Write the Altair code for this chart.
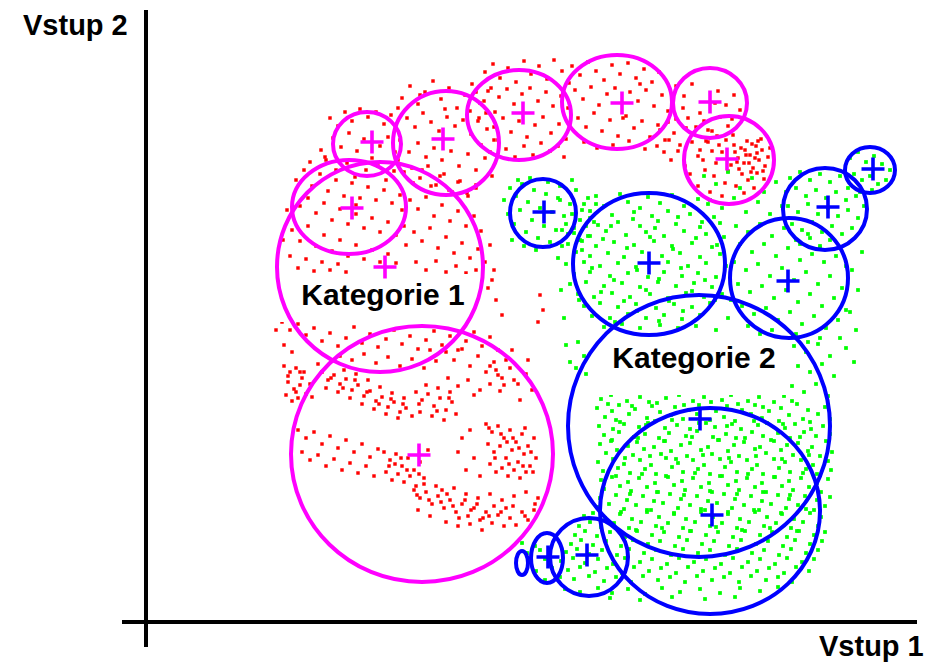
import altair as alt
import pandas as pd

# ---------------- text ----------------
axis_titles = ["Vstup 2", "Vstup 1"]
axis_title_x = [23, 819]
axis_title_y = [35, 656]

category_labels = ["Kategorie 1", "Kategorie 2"]
category_label_x = [383, 694]
category_label_y = [305, 368]
label_box_x1 = [280, 588]
label_box_x2 = [484, 790]
label_box_y1 = [274, 338]
label_box_y2 = [322, 395]

# ---------------- axes (pixel-like coordinate frame) ----------------
axis_x1 = [146, 122]
axis_x2 = [146, 917]
axis_y1 = [10, 622]
axis_y2 = [647, 622]

# ---------------- cluster outlines, category 1 (magenta) ----------------
cat1_cx = [367, 446, 519, 617, 710, 729, 349, 380, 422]
cat1_cy = [144, 143, 115, 102, 103, 160, 207, 267, 454]
cat1_rx = [34, 53, 52, 55, 37, 45, 57, 103, 131]
cat1_ry = [32, 52, 45, 47, 35, 44, 47, 105, 128]
cat1_cross_x = [372, 443, 523, 622, 710, 727, 352, 385, 419]
cat1_cross_y = [142, 139, 113, 103, 102, 159, 208, 267, 455]

# ---------------- cluster outlines, category 2 (blue) ----------------
cat2_cx = [543, 649, 789, 825, 870, 699, 710, 589, 547, 522]
cat2_cy = [213, 264, 278, 209, 170, 426, 511, 557, 558, 563]
cat2_rx = [33, 76, 59, 42, 25, 131, 110, 39, 16, 6]
cat2_ry = [34, 71, 60, 41, 23, 131, 103, 39, 25, 12]
cat2_cross_x = [544, 649, 788, 828, 873, 700, 712, 587, 548]
cat2_cross_y = [212, 263, 281, 207, 169, 419, 515, 555, 557]

# ---------------- training samples, category 1 (red) ----------------
red_left_top = [(330,118),(338,126),(345,112),(352,121),(360,109),(368,117),(376,112),(384,124),(391,115),(398,108),(333,138),(341,147),(349,133),(357,151),(364,139),(372,158),(380,146),(388,137),(395,152),(326,160),(336,170),(347,163),(355,177),(366,170),(378,166),(386,180),(394,171),(321,150)]
red_arc_a = [(402,98),(410,86),(418,104),(425,92),(433,81),(441,99),(449,88),(457,108),(465,95),(472,84),(480,103),(488,91),(495,112),(407,118),(415,127),(423,113),(431,122),(439,131),(447,117),(455,126),(463,120),(471,134),(479,118),(487,129),(494,140),(400,140),(409,152),(418,143),(426,157),(434,148),(442,160),(451,151),(459,166),(468,154),(476,170),(485,158),(492,176),(404,172),(413,183),(422,170),(431,186),(440,176),(449,190),(458,182),(467,193),(476,185),(398,160),(420,95),(445,109),(470,111)]
red_arc_b = [(485,72),(493,64),(500,78),(508,68),(516,82),(524,61),(531,74),(539,66),(547,79),(554,60),(562,71),(569,83),(476,92),(484,101),(491,88),(499,97),(507,89),(514,104),(522,94),(530,88),(538,101),(546,92),(553,106),(561,96),(568,108),(478,121),(486,113),(494,127),(503,118),(511,132),(519,121),(527,137),(535,125),(543,117),(551,133),(559,124),(566,139),(481,145),(490,152),(498,140),(506,149),(515,157),(524,146),(533,155),(541,143),(550,151),(558,146),(564,157)]
red_arc_c = [(572,66),(580,75),(588,62),(596,71),(604,80),(612,65),(620,74),(628,63),(636,78),(644,69),(652,82),(659,72),(575,90),(583,99),(591,87),(599,105),(607,94),(615,88),(630,92),(638,101),(646,90),(654,106),(662,95),(668,111),(578,118),(586,127),(594,113),(602,131),(610,120),(618,136),(626,116),(634,128),(642,121),(650,137),(658,125),(665,140),(584,142),(597,148),(613,145),(629,141),(645,149),(657,146),(640,84),(623,118)]
red_arc_d = [(676,86),(684,96),(692,84),(700,113),(718,91),(726,105),(734,95),(688,118),(696,127),(704,121),(712,131),(720,117),(728,126),(668,122),(674,133),(680,145),(686,128),(664,152),(671,160),(678,151),(685,166),(692,142),(698,156),(706,141),(740,110),(683,108),(715,103),(732,119),(669,140),(676,119),(660,130),(690,174)]
red_arc_e = [(700,150),(708,142),(716,163),(722,152),(728,171),(734,145),(738,158),(741,148),(744,163),(747,141),(750,155),(753,168),(756,146),(759,160),(762,150),(765,166),(768,157),(742,174),(748,180),(736,186),(725,183),(714,176),(705,170),(698,186),(710,192),(722,196),(731,165),(739,169),(746,155),(752,144),(757,173),(761,139),(733,135),(726,140),(717,136),(708,130),(770,148),(764,179),(754,188),(744,193),(703,160),(712,151),(719,145),(735,152),(749,163),(757,153)]
red_side = [(296,180),(304,170),(312,186),(320,174),(328,191),(336,180),(344,196),(352,183),(360,198),(368,187),(376,200),(384,190),(392,203),(400,195),(300,206),(308,198),(316,213),(324,203),(332,220),(340,209),(348,224),(356,214),(364,228),(372,218),(380,232),(388,222),(396,235),(404,226),(292,230),(300,241),(308,226),(316,246),(324,235),(332,251),(340,240),(348,256),(356,245),(364,259),(372,250),(380,262),(388,254),(396,263),(290,256),(298,268),(306,259),(314,271),(322,262),(330,270),(338,264),(346,272),(310,162),(325,157),(287,210),(283,240),(406,245),(402,210),(356,205)]
red_inner = [(412,168),(420,178),(428,166),(436,185),(444,174),(452,192),(460,181),(468,196),(476,188),(410,200),(418,209),(426,197),(434,216),(442,205),(450,221),(458,211),(466,226),(474,216),(481,231),(414,232),(422,241),(430,228),(438,248),(446,237),(454,253),(462,243),(470,258),(478,249),(485,262),(416,262),(426,270),(436,261),(446,272),(456,266),(466,273),(476,270),(490,245),(492,280)]
red_mid = [(282,322),(290,330),(298,324),(306,335),(314,328),(322,341),(330,333),(338,346),(346,338),(354,327),(362,343),(370,334),(378,347),(386,339),(394,330),(402,344),(410,336),(418,349),(426,340),(434,331),(442,345),(450,336),(458,350),(466,341),(474,332),(482,346),(490,337),(498,350),(284,345),(292,352),(496,300),(502,315),(488,288),(494,270),(276,330),(540,295),(543,310),(538,322)]
red_low_a = [(284,366),(290,372),(296,368),(302,378),(288,382),(294,389),(300,385),(306,394),(286,395),(292,401),(298,398),(310,384),(304,372),(312,397),(322,372),(328,380),(334,375),(340,384),(346,379),(352,390),(358,385),(364,396),(370,391),(376,401),(382,397),(388,407),(394,402),(400,412),(406,408),(412,416),(326,388),(338,392),(350,398),(362,404),(374,409),(386,414),(398,418),(344,370),(356,374),(368,380),(380,387),(392,393),(404,398),(318,364),(340,356),(352,360),(364,354),(376,363),(388,357),(400,366),(412,359),(424,368),(436,361),(430,350)]
red_low_b = [(446,352),(454,360),(462,349),(470,366),(478,356),(486,372),(494,362),(502,378),(510,368),(518,384),(526,374),(532,390),(448,378),(458,386),(468,380),(480,390),(490,384),(496,370),(500,391),(506,360),(514,380),(490,366),(498,375),(504,385),(474,395),(520,400),(528,360),(512,350),(416,392),(422,400),(428,394),(434,406),(440,398),(446,410),(452,402),(420,412),(432,416),(444,420),(456,414),(426,385),(438,388),(450,392)]
red_low_c = [(298,430),(306,438),(314,432),(322,444),(330,436),(338,448),(346,440),(354,452),(362,444),(370,457),(378,449),(302,452),(310,460),(318,455),(326,466),(334,459),(342,470),(350,463),(358,473),(366,466),(374,476),(384,452),(390,460),(396,454),(402,466),(408,458),(414,470),(420,462),(386,472),(392,480),(398,474),(404,482),(410,476),(416,486),(424,478),(428,450),(458,452),(466,470),(474,458),(480,476),(462,438),(470,430)]
red_low_d = [(486,424),(492,432),(498,426),(504,438),(510,430),(516,442),(522,434),(528,446),(534,438),(488,444),(494,452),(500,446),(506,458),(512,450),(518,462),(524,454),(530,466),(536,458),(490,464),(496,472),(502,468),(508,476),(514,470),(520,478),(526,472)]
red_bottom = [(414,490),(420,498),(426,492),(432,504),(438,496),(444,508),(450,500),(456,512),(462,504),(468,516),(474,508),(480,520),(486,512),(492,523),(498,515),(504,526),(510,518),(516,525),(522,512),(528,520),(534,510),(418,510),(430,516),(442,490),(454,488),(466,494),(478,498),(490,494),(502,500),(514,496),(526,492),(538,498),(446,522),(458,526),(470,524),(482,530),(494,506),(506,508),(424,484),(436,486)]
red_dense = [(489,428),(501,434),(513,438),(525,428),(531,452),(519,448),(507,442),(495,458),(509,464),(523,466),(533,472),(417,495),(429,500),(441,502),(453,506),(465,500),(477,504),(489,516),(501,512),(513,506),(525,516),(535,504),(447,494),(459,518),(471,510),(483,518),(745,150),(755,158),(763,171),(737,162),(751,172),(758,141),(331,378),(343,388),(355,380),(367,392),(379,404),(391,399),(403,404),(288,376),(296,392),(300,372),(419,404),(437,411),(449,398),(395,464),(407,470),(419,474),(389,466),(401,458)]

# ---------------- training samples, category 2 (green) ----------------
green_small = [(510,188),(516,196),(522,184),(528,202),(534,190),(540,208),(546,194),(552,212),(558,198),(564,216),(570,204),(576,190),(582,210),(588,198),(594,222),(508,214),(514,224),(520,210),(526,232),(532,220),(538,238),(544,226),(550,242),(556,230),(562,246),(568,234),(574,228),(580,240),(586,226),(512,240),(524,246),(536,250),(518,180),(530,178),(548,182),(560,186),(572,180),(590,236),(596,204),(504,200)]
green_upper = [(596,196),(620,194),(648,197),(672,195),(698,199),(584,204),(604,206),(628,202),(640,208),(660,203),(684,206),(708,204),(572,214),(590,211),(612,215),(634,212),(652,216),(668,211),(690,214),(714,217),(566,224),(580,220),(598,225),(618,222),(640,226),(658,221),(676,224),(700,227),(720,223),(574,233),(588,236),(606,231),(626,235),(646,232),(664,236),(684,231),(706,234),(724,237),(568,244),(582,241),(596,246),(614,242),(634,245),(654,241),(672,246),(692,243),(712,247),(576,252),(590,256),(608,253),(624,257),(642,252),(662,256),(680,253),(700,257),(720,254),(566,264),(584,262),(600,266),(618,263),(636,267),(668,262),(688,266),(706,263),(726,266),(574,274),(590,272),(610,276),(628,273),(648,277),(664,272),(682,276),(698,273),(716,277),(570,284),(586,282),(604,286),(622,283),(640,287),(658,282),(676,286),(694,283),(712,287),(578,294),(594,297),(612,293),(630,297),(650,294),(668,298),(686,293),(704,297),(722,294),(584,306),(600,303),(618,307),(636,304),(656,308),(674,304),(692,307),(710,303),(592,316),(610,318),(628,314),(646,318),(664,315),(682,319),(700,315),(604,327),(622,324),(640,328),(660,325),(678,328),(696,326),(560,200),(562,230),(558,258),(561,290),(564,318),(566,345),(570,362),(716,330),(728,318),(731,300)]
green_upper_dense = [(590,218),(611,226),(633,219),(655,228),(678,217),(702,222),(582,250),(603,239),(627,248),(650,237),(673,249),(696,238),(717,245),(592,268),(614,280),(637,270),(659,279),(681,268),(705,280),(579,300),(601,292),(624,301),(646,290),(669,301),(692,291),(715,300),(615,322),(637,311),(659,321),(683,311)]
green_right = [(850,158),(858,152),(866,162),(874,156),(882,164),(890,170),(854,174),(862,180),(870,176),(878,184),(886,180),(848,188),(860,192),(872,190),(790,178),(800,172),(810,180),(820,174),(830,182),(840,176),(786,192),(796,188),(806,196),(816,190),(826,198),(836,192),(846,200),(856,196),(864,206),(788,206),(798,212),(808,204),(818,214),(828,208),(838,216),(848,210),(858,218),(792,224),(802,230),(812,222),(822,232),(832,226),(842,234),(852,228),(800,244),(810,238),(820,246),(830,240),(840,248),(704,176),(716,184),(728,172),(740,188),(752,178),(764,192),(776,182),(710,200),(722,208),(734,198),(746,212),(758,202),(770,214),(782,206),(736,226),(748,232),(760,224),(772,236),(784,228),(796,240),(808,234),(820,248),(740,244),(752,252),(764,244),(776,256),(788,248),(800,260),(812,254),(824,262),(836,256),(846,266),(734,262),(746,270),(758,264),(770,276),(782,268),(794,280),(806,272),(818,284),(830,276),(842,288),(738,284),(750,292),(762,286),(774,298),(786,290),(798,302),(810,294),(822,306),(834,298),(846,310),(742,306),(754,314),(766,308),(778,320),(790,312),(802,324),(814,316),(826,328),(838,320),(748,326),(760,334),(772,330),(784,340),(796,334),(808,342),(820,338),(852,270),(858,290),(850,312),(856,330),(846,348),(854,362),(840,338),(862,252)]
green_side = [(794,346),(806,352),(818,344),(830,356),(798,366),(810,372),(822,364),(834,376),(792,386),(804,392),(816,384),(828,396),(578,342),(584,356),(576,368),(586,374)]
green_low_a = [(601,399),(611,395),(627,401),(640,397),(649,402),(666,398),(679,395),(693,401),(704,397),(722,400),(731,395),(748,401),(759,397),(774,402),(784,396),(597,408),(612,411),(619,405),(635,409),(652,406),(660,412),(675,407),(689,410),(699,405),(716,411),(727,406),(742,410),(755,405),(769,411),(781,408),(797,404),(808,410),(825,407),(605,417),(616,420),(629,414),(647,418),(655,421),(671,415),(683,419),(697,414),(710,420),(724,417),(735,421),(751,414),(762,418),(779,421),(789,415),(803,419),(818,414),(830,419),(599,426),(613,429),(624,424),(639,427),(648,423),(665,428),(677,425),(690,429),(706,423),(715,427),(732,424),(741,429),(758,425),(767,423),(785,428),(795,424),(811,429),(823,426),(604,435),(619,432),(634,437),(645,434),(659,438),(669,433),(686,436),(697,431),(713,437),(726,434),(736,438),(752,432),(763,436),(778,433),(790,438),(804,432),(816,436),(830,434)]
green_low_b = [(600,444),(611,441),(628,446),(637,442),(654,447),(664,441),(681,445),(690,443),(708,447),(718,440),(734,445),(744,442),(760,447),(771,440),(787,445),(798,443),(812,447),(826,441),(606,453),(617,450),(633,455),(644,449),(661,454),(671,451),(687,456),(701,450),(712,454),(728,451),(739,456),(755,449),(766,453),(781,450),(793,455),(808,451),(820,456),(832,452),(598,462),(613,459),(624,464),(640,460),(651,465),(666,458),(678,463),(693,460),(704,465),(720,459),(731,462),(747,460),(757,465),(774,459),(785,462),(801,460),(813,465),(828,461),(603,471),(618,468),(630,473),(645,469),(656,474),(672,467),(683,472),(698,469),(710,474),(725,467),(737,472),(752,469),(763,474),(779,468),(790,472),(806,469),(817,474),(831,470)]
green_low_c = [(601,480),(612,477),(628,482),(639,478),(655,483),(666,476),(682,481),(693,478),(709,483),(720,476),(736,481),(747,478),(762,483),(774,477),(789,481),(801,478),(817,483),(828,479),(604,489),(620,486),(631,491),(647,487),(658,492),(674,485),(685,490),(701,487),(712,492),(728,485),(739,490),(755,487),(766,492),(782,486),(793,490),(809,487),(821,492),(600,498),(616,495),(627,500),(643,496),(654,501),(670,494),(681,499),(697,496),(708,501),(724,494),(735,499),(751,496),(762,501),(778,495),(789,499),(805,496),(817,500),(830,497),(597,507),(609,504),(624,509),(636,505),(651,510),(663,503),(678,508),(690,505),(705,510),(717,503),(732,508),(744,505),(759,510),(771,504),(786,508),(798,505),(814,510),(825,506)]
green_low_d = [(584,516),(593,513),(605,518),(620,514),(632,519),(647,512),(659,517),(674,514),(686,519),(701,512),(713,517),(728,514),(740,519),(755,512),(767,517),(782,514),(794,519),(810,513),(821,517),(579,526),(590,522),(601,527),(614,523),(629,528),(641,522),(656,526),(668,523),(683,528),(695,522),(710,526),(722,523),(737,528),(749,522),(764,526),(776,523),(791,528),(803,522),(818,526),(575,535),(585,531),(597,536),(610,532),(625,537),(637,531),(652,535),(664,532),(679,537),(691,531),(706,535),(718,532),(733,537),(745,531),(760,535),(772,532),(787,537),(799,531),(814,535),(825,532)]
green_low_e = [(522,543),(535,546),(571,544),(581,540),(593,545),(606,541),(621,546),(633,540),(648,544),(660,541),(675,546),(687,540),(702,544),(714,541),(729,546),(741,540),(756,544),(768,541),(783,546),(795,540),(810,544),(822,541),(527,553),(540,550),(566,552),(577,549),(589,554),(602,550),(617,555),(629,549),(644,553),(656,550),(671,555),(683,549),(698,553),(710,550),(725,555),(737,549),(752,553),(764,550),(779,555),(791,549),(806,553),(818,550),(530,562),(545,559),(561,561),(573,558),(585,563),(598,559),(613,564),(625,558),(640,562),(652,559),(667,564),(679,558),(694,562),(706,559),(721,564),(733,558),(748,562),(760,559),(775,564),(787,558),(802,562),(814,559)]
green_low_f = [(536,571),(552,568),(568,570),(580,567),(595,572),(607,568),(622,573),(634,567),(649,571),(661,568),(676,573),(688,567),(703,571),(715,568),(730,573),(742,567),(757,571),(769,568),(784,573),(796,567),(809,571),(545,580),(560,577),(574,579),(589,576),(604,581),(616,577),(631,582),(643,576),(658,580),(670,577),(685,582),(697,576),(712,580),(724,577),(739,582),(751,576),(766,580),(778,577),(792,582),(565,589),(580,592),(598,588),(612,593),(628,589),(645,594),(662,588),(680,592),(700,589),(720,593),(740,588),(760,591),(778,587),(610,598),(640,600),(672,597),(705,599),(735,597)]
green_core = [(608,404),(632,406),(657,403),(684,405),(711,402),(738,404),(763,407),(792,401),(620,422),(646,425),(672,420),(699,423),(727,426),(754,421),(783,424),(810,422),(612,440),(638,438),(665,441),(692,437),(719,440),(745,438),(774,441),(800,437),(625,458),(650,456),(676,459),(703,455),(729,458),(756,456),(782,459),(809,455),(616,476),(642,474),(668,477),(695,473),(722,476),(748,474),(775,477),(803,473),(630,494),(657,492),(684,495),(710,491),(737,494),(763,492),(790,495),(621,512),(647,510),(674,513),(701,509),(728,512),(754,510),(781,513),(806,509),(636,530),(662,528),(690,531),(716,527),(742,530),(770,528),(797,531)]

# ---------------- build tables ----------------
red_pts = (red_left_top + red_arc_a + red_arc_b + red_arc_c + red_arc_d + red_arc_e + red_side
           + red_inner + red_mid + red_low_a + red_low_b + red_low_c + red_low_d + red_bottom
           + red_dense)
green_pts = (green_small + green_upper + green_upper_dense + green_right + green_side
             + green_low_a + green_low_b + green_low_c + green_low_d + green_low_e + green_low_f
             + green_core)

red_df = pd.DataFrame(red_pts, columns=["x", "y"])
green_df = pd.DataFrame(green_pts, columns=["x", "y"])

KAPPA = 0.5523


def ellipse_path(q):
    a = KAPPA * q
    k = KAPPA
    return (f"M1,0C1,{a:.4f},{k},{q:.4f},0,{q:.4f}"
            f"C{-k},{q:.4f},-1,{a:.4f},-1,0"
            f"C-1,{-a:.4f},{-k},{-q:.4f},0,{-q:.4f}"
            f"C{k},{-q:.4f},1,{-a:.4f},1,0Z")


def outline_table(cx, cy, rx, ry, cls):
    return pd.DataFrame({
        "x": cx, "y": cy,
        "size": [(2 * a) ** 2 for a in rx],
        "shape": [ellipse_path(b / a) for a, b in zip(rx, ry)],
        "cls": cls,
    })


outlines = pd.concat([
    outline_table(cat1_cx, cat1_cy, cat1_rx, cat1_ry, "Kategorie 1"),
    outline_table(cat2_cx, cat2_cy, cat2_rx, cat2_ry, "Kategorie 2"),
])
crosses = pd.DataFrame({
    "x": cat1_cross_x + cat2_cross_x,
    "y": cat1_cross_y + cat2_cross_y,
    "cls": ["Kategorie 1"] * len(cat1_cross_x) + ["Kategorie 2"] * len(cat2_cross_x),
})
boxes = pd.DataFrame({"x1": label_box_x1, "x2": label_box_x2, "y1": label_box_y1, "y2": label_box_y2})
labels = pd.DataFrame({"x": category_label_x, "y": category_label_y, "t": category_labels})
titles = pd.DataFrame({"x": axis_title_x, "y": axis_title_y, "t": axis_titles})
axes_df = pd.DataFrame({"x1": axis_x1, "x2": axis_x2, "y1": axis_y1, "y2": axis_y2})

xs = alt.Scale(domain=[8, 928], nice=False, zero=False)
ys = alt.Scale(domain=[8, 663], nice=False, zero=False, reverse=True)
X = lambda f: alt.X(f, type="quantitative", scale=xs, axis=None)
Y = lambda f: alt.Y(f, type="quantitative", scale=ys, axis=None)

line_color = alt.Color("cls:N", scale=alt.Scale(domain=["Kategorie 1", "Kategorie 2"],
                                                 range=["#ff00ff", "#0000ff"]), legend=None)

red_layer = alt.Chart(red_df).mark_square(size=12, opacity=1, color="#ff0000").encode(
    x=X("x"), y=Y("y"))
green_layer = alt.Chart(green_df).mark_square(size=14, opacity=1, color="#00ff00").encode(
    x=X("x"), y=Y("y"))

box_layer = alt.Chart(boxes).mark_rect(color="white").encode(
    x=X("x1"), x2="x2", y=Y("y1"), y2="y2")

outline_layer = alt.Chart(outlines).mark_point(filled=False, strokeWidth=4, opacity=1).encode(
    x=X("x"), y=Y("y"),
    size=alt.Size("size:Q", scale=None, legend=None),
    shape=alt.Shape("shape:N", scale=None, legend=None),
    color=line_color,
)

cross_layer = alt.Chart(crosses).mark_point(
    filled=False, strokeWidth=3.6, opacity=1, size=(2 * 11.5) ** 2,
    shape="M-1,0L1,0M0,-1L0,1").encode(
    x=X("x"), y=Y("y"), color=line_color)

axes_layer = alt.Chart(axes_df).mark_rule(color="black", strokeWidth=4).encode(
    x=X("x1"), x2="x2", y=Y("y1"), y2="y2")

label_layer = alt.Chart(labels).mark_text(
    font="Liberation Sans", fontWeight="bold", fontSize=30, align="center",
    baseline="alphabetic", color="black").encode(x=X("x"), y=Y("y"), text="t:N")

title_layer = alt.Chart(titles).mark_text(
    font="Liberation Sans", fontWeight="bold", fontSize=29, align="left",
    baseline="alphabetic", color="black").encode(x=X("x"), y=Y("y"), text="t:N")

chart = alt.layer(
    red_layer, green_layer, box_layer, outline_layer, cross_layer, axes_layer,
    label_layer, title_layer
).properties(
    width=920, height=655, padding=0,
    autosize=alt.AutoSizeParams(type="none"),
).configure_view(stroke=None)

chart.save("out.html", embed_options={"renderer": "svg", "actions": False})
